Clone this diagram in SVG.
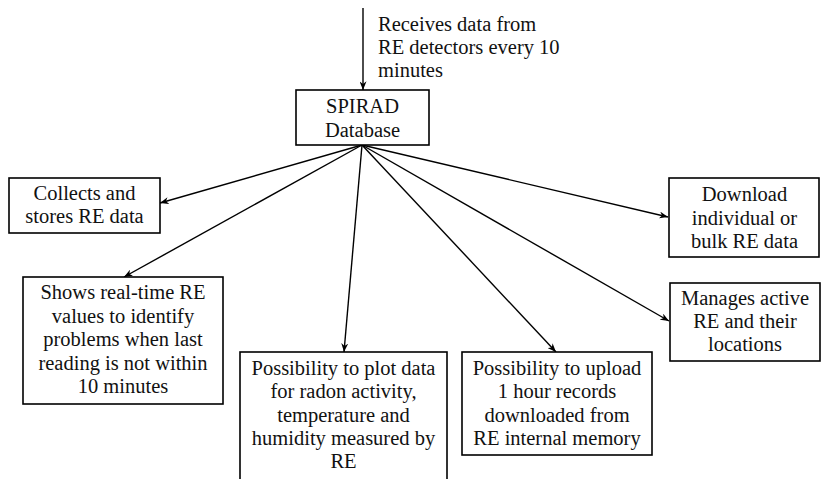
<svg xmlns="http://www.w3.org/2000/svg" width="821" height="479" viewBox="0 0 821 479">
<style>
.box{fill:#fff;stroke:#000;stroke-width:1.6}
.t{font-size:20.5px;fill:#111;text-anchor:middle}
.tl{font-size:20.5px;fill:#111}
.c{stroke:#000;stroke-width:1.4;fill:none;marker-end:url(#ah)}
</style>
<defs>
<marker id="ah" viewBox="0 0 10 8" refX="10" refY="4" markerWidth="9" markerHeight="7" markerUnits="userSpaceOnUse" orient="auto">
<path d="M0,0 L10,4 L0,8 L3,4 Z" fill="#000"/>
</marker>
</defs>
<rect width="821" height="479" fill="#fff"/>
<g id="connectors">
<line class="c" x1="363" y1="8" x2="363" y2="90"/>
<line class="c" x1="362" y1="145" x2="160" y2="203"/>
<line class="c" x1="362" y1="145" x2="124" y2="277"/>
<line class="c" x1="362" y1="145" x2="344" y2="352"/>
<line class="c" x1="362" y1="145" x2="556" y2="352"/>
<line class="c" x1="362" y1="145" x2="669" y2="321"/>
<line class="c" x1="362" y1="145" x2="668" y2="217"/>
</g>
<g font-family="Liberation Serif, DejaVu Serif, serif">
<g id="note">
<text class="tl" x="378" y="31">Receives data from</text>
<text class="tl" x="378" y="54">RE detectors every 10</text>
<text class="tl" x="378" y="77">minutes</text>
</g>
<g id="spirad">
<rect class="box" x="296" y="90" width="133" height="55"/>
<text class="t" x="362.5" y="113">SPIRAD</text>
<text class="t" x="362.5" y="137">Database</text>
</g>
<g id="collects">
<rect class="box" x="9" y="178" width="151" height="55"/>
<text class="t" x="84.5" y="200">Collects and</text>
<text class="t" x="84.5" y="223">stores RE data</text>
</g>
<g id="shows">
<rect class="box" x="23" y="277" width="200" height="127"/>
<text class="t" x="123" y="299">Shows real-time RE</text>
<text class="t" x="123" y="323">values to identify</text>
<text class="t" x="123" y="346">problems when last</text>
<text class="t" x="123" y="370">reading is not within</text>
<text class="t" x="123" y="393">10 minutes</text>
</g>
<g id="plot">
<rect class="box" x="240" y="352" width="207" height="135"/>
<text class="t" x="343.5" y="375">Possibility to plot data</text>
<text class="t" x="343.5" y="398">for radon activity,</text>
<text class="t" x="343.5" y="422">temperature and</text>
<text class="t" x="343.5" y="445">humidity measured by</text>
<text class="t" x="343.5" y="468">RE</text>
</g>
<g id="upload">
<rect class="box" x="462" y="352" width="190" height="103"/>
<text class="t" x="557" y="375">Possibility to upload</text>
<text class="t" x="557" y="398">1 hour records</text>
<text class="t" x="557" y="422">downloaded from</text>
<text class="t" x="557" y="445">RE internal memory</text>
</g>
<g id="download">
<rect class="box" x="669" y="178" width="150" height="79"/>
<text class="t" x="744.5" y="201">Download</text>
<text class="t" x="744.5" y="225">individual or</text>
<text class="t" x="744.5" y="248">bulk RE data</text>
</g>
<g id="manages">
<rect class="box" x="670" y="283" width="150" height="78"/>
<text class="t" x="745" y="305">Manages active</text>
<text class="t" x="745" y="328">RE and their</text>
<text class="t" x="745" y="351">locations</text>
</g>
</g>
</svg>
